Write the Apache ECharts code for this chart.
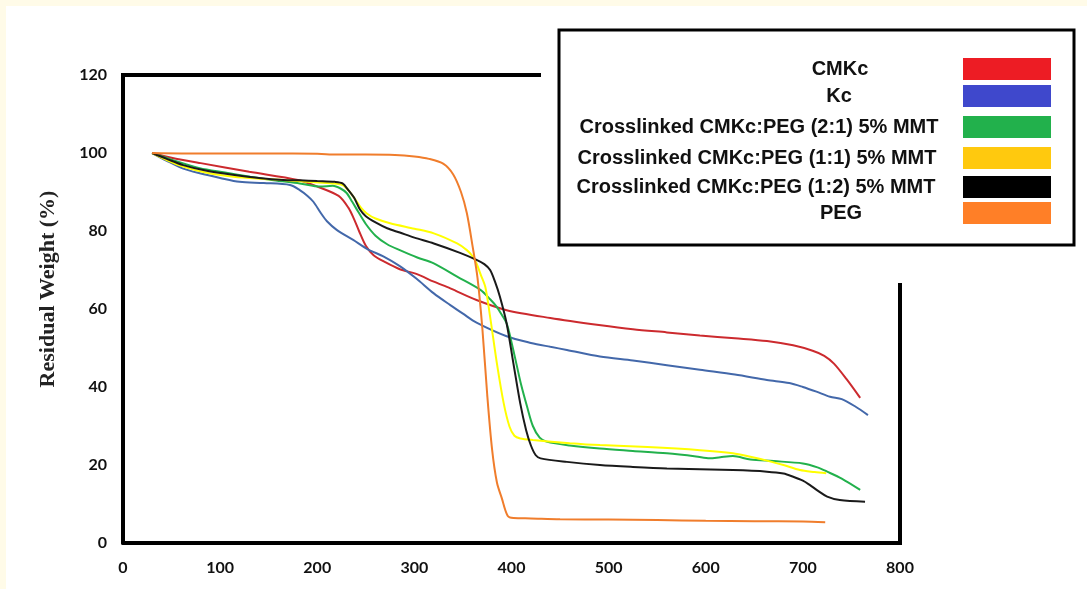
<!DOCTYPE html>
<html>
<head>
<meta charset="utf-8">
<script src="https://cdn.jsdelivr.net/npm/echarts@6/dist/echarts.min.js"></script>
<style>
  html, body { margin: 0; padding: 0; background: #fff; }
  #chart { width: 1087px; height: 589px; }
</style>
</head>
<body>
<div id="chart"></div>
<script>
// 图例名称
const seriesNames = [
  'CMKc',
  'Kc',
  'Crosslinked CMKc:PEG (2:1) 5% MMT',
  'Crosslinked CMKc:PEG (1:1) 5% MMT',
  'Crosslinked CMKc:PEG (1:2) 5% MMT',
  'PEG'
];
const swatchColors = ['#ed1c24', '#3f48cc', '#22b14c', '#ffc90e', '#000000', '#ff7f27'];
const lineColors = ['#cc2a2e', '#4368aa', '#22b14c', '#ffff00', '#1a1a1a', '#f07d2c'];

const xTicks = [0, 100, 200, 300, 400, 500, 600, 700, 800];
const yTicks = [0, 20, 40, 60, 80, 100, 120];

// 温度 / 残重 数据
const cmkc = [[30,100],[50,98.8],[80,97.4],[130,95.2],[180,93.1],[200,91.4],[222,89],[232,86],[238,83],[243,80],[250,76.2],[258,73.8],[270,72],[285,70.2],[302,69],[320,67],[337,65.3],[364,62.3],[395,59.7],[440,57.7],[490,55.9],[525,54.8],[560,54],[594,53.2],[630,52.5],[663,51.8],[690,50.7],[710,49.3],[722,48],[732,46],[745,42],[759,37.2]];
const kc = [[30,100],[45,98],[62,96],[79,94.8],[100,93.6],[120,92.6],[145,92.3],[172,91.8],[182,90.5],[190,89],[196,87.5],[204,84.5],[210,82.5],[220,80.3],[237,77.7],[252,75.3],[268,73.5],[285,71],[302,67.8],[320,64],[337,61],[350,58.8],[364,56.5],[395,53],[420,51.3],[440,50.3],[457,49.5],[491,47.8],[525,46.8],[560,45.6],[594,44.4],[630,43.2],[663,41.8],[686,41],[700,40],[714,38.8],[728,37.5],[740,36.9],[754,35],[767,32.8]];
const peg21 = [[30,100],[50,98.3],[79,96.1],[105,95],[131,93.9],[155,93],[182,92.2],[203,91.4],[216,91.6],[224,90.9],[230,89.8],[236,87.5],[242,85],[250,81.8],[260,78.8],[272,76.6],[285,75.1],[303,73.2],[320,71.7],[344,68.3],[368,64.9],[378,62.5],[385,60.5],[390,58.5],[395,56.3],[400,51.5],[405,46],[410,40.5],[416,35],[422,30],[429,27],[436,26],[460,25],[491,24.2],[525,23.6],[560,23],[590,22.2],[604,21.7],[615,22],[628,22.3],[646,21.4],[670,21],[700,20.4],[715,19.4],[725,18.3],[740,16.5],[759,13.6]];
const peg11 = [[30,100],[45,98.2],[62,96.5],[85,95],[114,93.9],[140,93.4],[165,93.1],[190,92.6],[216,92.2],[226,91.8],[232,90.5],[238,88.5],[245,86],[251,84.5],[260,83.2],[275,82],[300,80.6],[320,79.4],[344,76.8],[354,75.1],[360,73.5],[364,71.7],[368,69],[373,65.7],[378,58],[385,46],[392,35.8],[398,29.8],[403,27.5],[409,26.8],[422,26.4],[460,25.6],[491,25.1],[540,24.6],[594,23.8],[628,23],[646,22.1],[665,21],[680,20],[697,18.7],[712,18.2],[724,17.9]];
const peg12 = [[30,100],[45,98.5],[62,96.9],[85,95.5],[113,94.4],[140,93.6],[165,93.1],[182,93],[200,92.8],[218,92.6],[226,92.2],[232,90.5],[238,88.5],[244,85.5],[250,83.8],[260,82.2],[272,80.7],[285,79.6],[300,78.3],[320,76.8],[347,74.4],[364,72.6],[372,71.5],[378,70],[383,67],[388,63.2],[395,56.3],[402,46],[409,35.8],[415,29],[420,25],[425,22.5],[430,21.7],[457,20.8],[491,20],[525,19.5],[560,19.1],[628,18.7],[663,18.3],[680,17.8],[690,17],[700,16],[707,14.9],[716,13.3],[725,11.9],[738,11],[764,10.6]];
const peg = [[30,100],[60,99.9],[100,99.9],[150,99.9],[200,99.8],[220,99.6],[250,99.6],[280,99.5],[300,99.1],[315,98.5],[330,97.2],[340,94.5],[348,90],[354,84.6],[360,76],[365,68],[370,55],[375,38],[380,24],[385,15.5],[390,11.5],[396,7],[402,6.4],[420,6.3],[450,6.1],[500,6],[550,5.9],[600,5.7],[650,5.6],[700,5.5],[723,5.3]];

const allData = [cmkc, kc, peg21, peg11, peg12, peg];

const chart = echarts.init(document.getElementById('chart'));

// 图例位置 (自绘)
const legendRows = [69, 96, 127, 158, 187, 213];
const legendTextX = [840, 839, 759, 757, 756, 841];

const graphic = [
  // 米色边
  { type: 'rect', shape: { x: 0, y: 0, width: 1087, height: 6 }, style: { fill: '#fffbe8' }, silent: true },
  { type: 'rect', shape: { x: 0, y: 0, width: 6, height: 589 }, style: { fill: '#fffbe8' }, silent: true },
  // 外框
  { type: 'line', shape: { x1: 121, y1: 75, x2: 541, y2: 75 }, style: { stroke: '#000', lineWidth: 4 }, silent: true },
  { type: 'line', shape: { x1: 900, y1: 283, x2: 900, y2: 545 }, style: { stroke: '#000', lineWidth: 4 }, silent: true },
  // 图例框
  { type: 'rect', shape: { x: 559, y: 30, width: 515, height: 215 }, style: { fill: '#fff', stroke: '#000', lineWidth: 3 }, z: 10 },
  // y 轴标题
  {
    type: 'text', x: 48, y: 289, rotation: Math.PI / 2,
    style: {
      text: 'Residual Weight (%)', font: 'bold 22px "Liberation Serif"',
      fill: '#222', align: 'center', verticalAlign: 'middle'
    }
  }
];

seriesNames.forEach((name, i) => {
  graphic.push({
    type: 'text', x: legendTextX[i], y: legendRows[i], z: 11,
    style: { text: name, font: 'bold 20px "Liberation Sans"', fill: '#111', align: 'center', verticalAlign: 'middle' }
  });
  graphic.push({
    type: 'rect', z: 11,
    shape: { x: 963, y: legendRows[i] - 11, width: 88, height: 22 },
    style: { fill: swatchColors[i] }
  });
});

const option = {
  backgroundColor: '#fff',
  animation: false,
  grid: { left: 123, right: 187, top: 75, bottom: 46 },
  xAxis: {
    type: 'value', min: 0, max: 800, interval: 100,
    axisLine: { show: true, lineStyle: { color: '#000', width: 4 } },
    axisTick: { show: false },
    splitLine: { show: false },
    axisLabel: {
      margin: 17, color: '#111', fontFamily: 'Lato', fontWeight: 'bold', fontSize: 16,
      formatter: v => xTicks.includes(v) ? String(v) : ''
    }
  },
  yAxis: {
    type: 'value', min: 0, max: 120, interval: 20,
    axisLine: { show: true, lineStyle: { color: '#000', width: 4 } },
    axisTick: { show: false },
    splitLine: { show: false },
    axisLabel: {
      margin: 16, color: '#111', fontFamily: 'Lato', fontWeight: 'bold', fontSize: 16,
      formatter: v => yTicks.includes(v) ? String(v) : ''
    }
  },
  graphic: graphic,
  series: seriesNames.map((name, i) => ({
    name: name,
    type: 'line',
    data: allData[i],
    showSymbol: false,
    smooth: 0.3,
    lineStyle: { color: lineColors[i], width: 2 },
    itemStyle: { color: lineColors[i] },
    z: 2 + i
  }))
};

chart.setOption(option);
</script>
</body>
</html>
